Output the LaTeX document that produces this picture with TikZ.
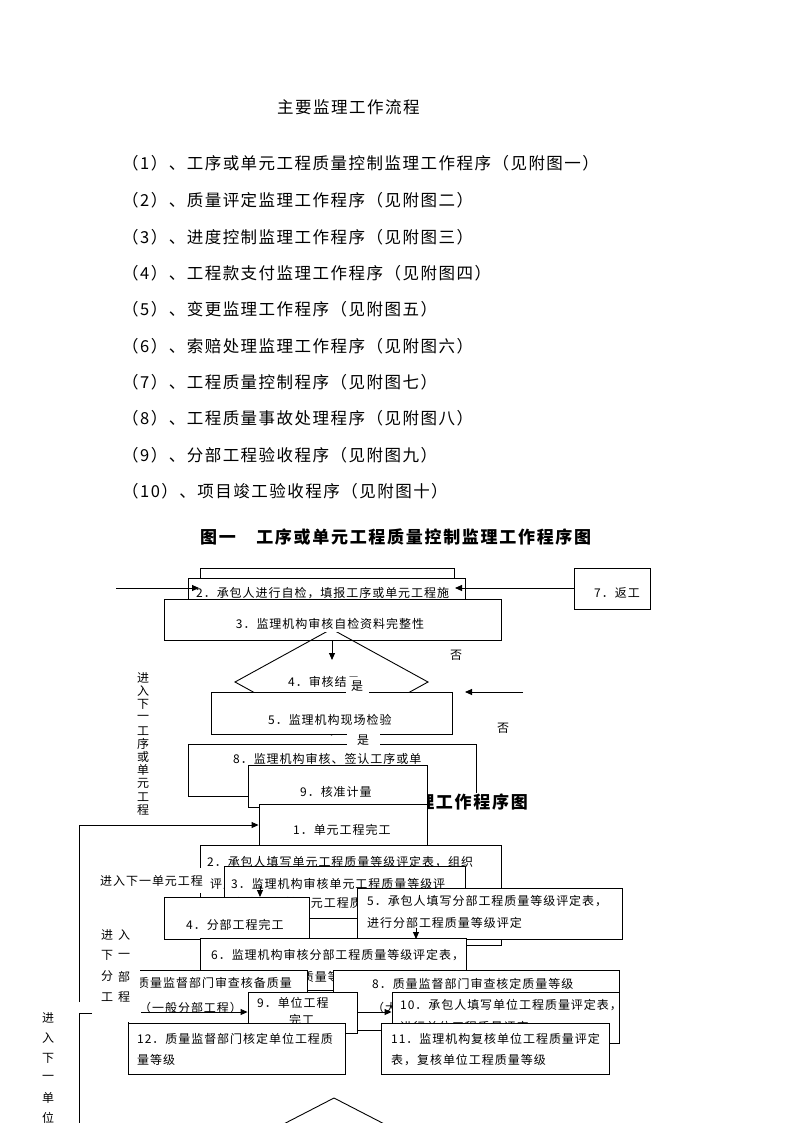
\documentclass[tikz,border=0pt]{standalone}
\usepackage{fontspec}
\setmainfont{Noto Sans CJK SC}
\newfontfamily\listf[LetterSpace=9]{Noto Sans CJK SC}
\newfontfamily\boxf[LetterSpace=8]{Noto Sans CJK SC}
\newfontfamily\titf[LetterSpace=10]{Noto Sans CJK SC}
\usetikzlibrary{arrows.meta}
\tikzset{
  bx/.style={draw, fill=white, line width=0.9pt, inner sep=0pt},
  bt/.style={font=\boxf\fontsize{12}{14}\selectfont, inner sep=0pt, anchor=west},
  bc/.style={font=\boxf\fontsize{12}{14}\selectfont, inner sep=0pt},
  lt/.style={font=\listf\fontsize{16.5}{18}\selectfont, inner sep=0pt, anchor=west},
  tt/.style={font=\titf\bfseries\fontsize{17}{19}\selectfont, inner sep=0pt},
  arr/.style={-{Triangle[length=7pt,width=6pt]}, line width=0.9pt},
  ln/.style={line width=0.9pt},
  wl/.style={fill=white, font=\boxf\fontsize{12}{14}\selectfont, inner sep=0pt, minimum height=18pt},
}
\newcommand\mkbox[5]{\node[bx, minimum width={(#4)-(#2)}, minimum height={(#5)-(#3)}] (#1) at ({((#2)+(#4))/2},{((#3)+(#5))/2}) {};}
\begin{document}
\begin{tikzpicture}[x=1pt,y=-1pt]
\useasboundingbox (0,0) rectangle (794,1123);
\clip (0,0) rectangle (794,1123);
\fill[white] (0,0) rectangle (794,1123);

% ---------- heading and list ----------
\node[lt] (head) at (277,107) {主要监理工作流程};
\node[lt] (l1) at (122,163) {（1）、工序或单元工程质量控制监理工作程序（见附图一）};
\node[lt] (l2) at (122,200) {（2）、质量评定监理工作程序（见附图二）};
\node[lt] (l3) at (122,237) {（3）、进度控制监理工作程序（见附图三）};
\node[lt] (l4) at (122,273) {（4）、工程款支付监理工作程序（见附图四）};
\node[lt] (l5) at (122,309) {（5）、变更监理工作程序（见附图五）};
\node[lt] (l6) at (122,346) {（6）、索赔处理监理工作程序（见附图六）};
\node[lt] (l7) at (122,382) {（7）、工程质量控制程序（见附图七）};
\node[lt] (l8) at (122,418) {（8）、工程质量事故处理程序（见附图八）};
\node[lt] (l9) at (122,455) {（9）、分部工程验收程序（见附图九）};
\node[lt] (l10) at (122,491) {（10）、项目竣工验收程序（见附图十）};
\node[tt, anchor=west] (title1) at (200,537) {图一　工序或单元工程质量控制监理工作程序图};

% ---------- figure 1 ----------
\mkbox{topR}{200}{568}{454}{592}
\mkbox{A2}{188}{578}{465}{606}
\node[bt] (a2t) at (196,593) {2．承包人进行自检，填报工序或单元工程施};
\mkbox{A7}{574}{568}{650}{609}
\node[bt] (a7t) at (594,593) {7．返工};
\coordinate (inL) at (116,588);
\coordinate (tipL) at (199,588);
\coordinate (tipR) at (455,588);
\draw[arr] (inL) -- (tipL);
\draw[arr] (A7.west |- tipR) -- (tipR);

\mkbox{A3}{164}{599}{501}{640}
\coordinate (dT) at (331.5,629);
\coordinate (dL) at (235,682);
\coordinate (dB) at (331.5,735);
\coordinate (dR) at (428,682);
\draw[ln] (dT) -- (dL) -- (dB) -- (dR) -- cycle;
\node[bc, fill=white, inner ysep=2pt] (a3t) at (330,624) {3．监理机构审核自检资料完整性};
\coordinate (d4top) at (332,660);
\draw[arr] (A3.south -| d4top) -- (d4top);
\node[bt] (a4t) at (288,682) {4．审核结果};

\mkbox{A5}{211}{692}{452}{734}
\node[bt] (a5t) at (268,720) {5．监理机构现场检验};
\coordinate (r5) at (523,692);
\coordinate (r5t) at (465,692);
\draw[arr] (r5) -- (r5t);
\node[bc] (no1) at (456,655) {否};
\node[bc] (no2) at (503,728) {否};
\node[wl, minimum width=23pt] (yes1) at (357,686) {是};

\mkbox{A8}{188}{744}{476}{796}
\node[bt] (a8t) at (233,759) {8．监理机构审核、签认工序或单};
\node[wl, minimum width=33pt] (yes2) at (363,740) {是};

\node[tt, anchor=east, fill=white, inner ysep=1pt] (title2) at (528,802) {图二　质量评定监理工作程序图};

\mkbox{A9}{248}{765}{427}{807}
\node[bt] (a9t) at (300,792) {9．核准计量};
\mkbox{B1}{259}{804}{427}{850}
\node[bt] (b1t) at (293,830) {1．单元工程完工};

\foreach \c [count=\i] in {进,入,下,一,工,序,或,单,元,工,程}
  \node[bc] (vA\i) at (143,{678+13.2*(\i-1)}) {\c};

\coordinate (lp1) at (79,1002);
\coordinate (lp2) at (79,825);
\draw[arr] (lp1) -- (lp2) -- (lp2 -| B1.west);

% ---------- figure 2 ----------
\mkbox{B2}{200}{845}{501}{945}
\node[bt] (b2t) at (207,862) {2．承包人填写单元工程质量等级评定表，组织};
\node[bt] (b2u) at (210,884) {评定};
\mkbox{B3}{224}{866}{465}{918}
\node[bt] (b3t) at (231,884) {3．监理机构审核单元工程质量等级评};
\node[bt] (b3u) at (233,903) {定表，复核单元工程质量等级};
\node[wl, anchor=west, minimum height=25pt, inner xsep=1pt] (nxu) at (99,880.5) {进入下一单元工程};
\coordinate (a34s) at (260,886);
\coordinate (a34e) at (260,897);
\draw[arr] (a34s) -- (a34e);

\mkbox{B4}{164}{897}{309}{939}
\node[bt] (b4t) at (186,925) {4．分部工程完工};
\mkbox{B5}{357}{888}{622}{939}
\node[bt] (b5t) at (367,901) {5．承包人填写分部工程质量等级评定表，};
\node[bt] (b5u) at (367,923) {进行分部工程质量等级评定};
\coordinate (a56s) at (416,928);
\coordinate (a56e) at (416,939);
\draw[arr] (a56s) -- (a56e);

\mkbox{B6}{200}{938}{466}{990}
\node[bt] (b6t) at (211,955) {6．监理机构审核分部工程质量等级评定表，};
\node[bt] (b6u) at (211,977) {核定分部工程的质量等级};
\mkbox{B7}{128}{970}{307}{1030}
\node[bc, anchor=east] (b7t) at (292,983) {7．质量监督部门审查核备质量};
\node[bt] (b7u) at (139,1008) {（一般分部工程）};
\mkbox{B8}{333}{970}{619}{1030}
\node[bt] (b8t) at (372,984) {8．质量监督部门审查核定质量等级};
\node[bt] (b8u) at (372,1008) {（大中型分部工程）};

\fill[white] (95,922) rectangle (140,1022);
\foreach \a/\b [count=\i] in {进/入,下/一,分/部,工/程} {
  \node[bc] (vBl\i) at (107,{935+20.7*(\i-1)}) {\a};
  \node[bc] (vBr\i) at (124,{935+20.7*(\i-1)}) {\b};
}

\coordinate (a79s) at (141,1012);
\mkbox{B9}{248}{992}{357}{1033}
\draw[arr] (a79s) -- (a79s -| B9.west);
\node[bt] (b9t) at (257,1003) {9．单位工程};
\node[bt] (b9u) at (289,1020) {完工};
\mkbox{B10}{392}{992}{619}{1043}
\draw[arr] (B9.east |- a79s) -- (B10.west |- a79s);
\node[bt] (b10t) at (400,1005) {10．承包人填写单位工程质量评定表，};
\node[bt] (b10u) at (400,1027) {进行单位工程质量评定};
\mkbox{B12}{128}{1023}{345}{1074}
\node[bt] (b12t) at (137,1039) {12．质量监督部门核定单位工程质};
\node[bt] (b12u) at (137,1060) {量等级};
\mkbox{B11}{381}{1023}{609}{1074}
\node[bt] (b11t) at (391,1039) {11．监理机构复核单位工程质量评定};
\node[bt] (b11u) at (391,1060) {表，复核单位工程质量等级};

\coordinate (bk1) at (92,1013);
\coordinate (bk2) at (79,1013);
\coordinate (bk3) at (79,1135);
\draw[ln] (bk1) -- (bk2) -- (bk3);

\foreach \c [count=\i] in {进,入,下,一,单,位,工,程}
  \node[bc] (vC\i) at (48,{1018+20*(\i-1)}) {\c};

\coordinate (eT) at (334,1098);
\coordinate (eL) at (272,1130);
\coordinate (eR) at (396,1130);
\draw[ln] (eL) -- (eT) -- (eR);
\end{tikzpicture}
\end{document}
